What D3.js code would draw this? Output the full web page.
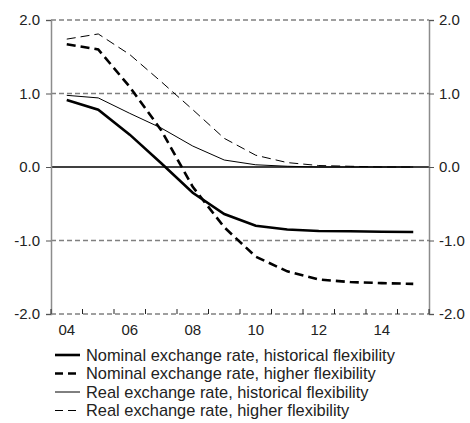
<!DOCTYPE html>
<html>
<head>
<meta charset="utf-8">
<script src="https://cdn.jsdelivr.net/npm/d3@7"></script>
<style>
  body { margin: 0; background: #fff; }
  svg { display: block; font-family: "Liberation Sans", Arial, sans-serif; }
</style>
</head>
<body>
<svg id="chart" width="470" height="423"></svg>
<script>
var years = [2004, 2005, 2006, 2007, 2008, 2009, 2010, 2011, 2012, 2013, 2014, 2015];
var yearLabels = ["04", "", "06", "", "08", "", "10", "", "12", "", "14", ""];
var yTicks = [-2, -1, 0, 1, 2];

var nominalHist   = [0.91, 0.78, 0.44, 0.05, -0.35, -0.64, -0.80, -0.85, -0.87, -0.875, -0.88, -0.885];
var nominalHigher = [1.67, 1.60, 1.09, 0.50, -0.27, -0.82, -1.22, -1.42, -1.53, -1.565, -1.58, -1.59];
var realHist      = [0.975, 0.94, 0.73, 0.53, 0.285, 0.095, 0.03, 0.01, 0.0, 0.0, 0.0, 0.0];
var realHigher    = [1.74, 1.81, 1.53, 1.16, 0.78, 0.39, 0.16, 0.06, 0.02, 0.01, 0.0, 0.0];

var seriesNames = [
    "Nominal exchange rate, historical flexibility",
    "Nominal exchange rate, higher flexibility",
    "Real exchange rate, historical flexibility",
    "Real exchange rate, higher flexibility"
];
var seriesValues = [nominalHist, nominalHigher, realHist, realHigher];
var seriesWidth = [2.6, 2.6, 1, 1];
var seriesDash = [null, "9,5", null, "9,5"];

var svg = d3.select("#chart");

var x = d3.scaleBand().domain(years).range([51, 429]).padding(0);
var y = d3.scaleLinear().domain([-2, 2]).range([314, 20]);

// gridlines
svg.append("g")
    .selectAll("line")
    .data(yTicks.filter(d => d !== 0))
    .enter().append("line")
    .attr("x1", 51).attr("x2", 429)
    .attr("y1", d => y(d)).attr("y2", d => y(d))
    .attr("stroke", "#808080")
    .attr("stroke-width", 1.5)
    .attr("stroke-dasharray", "5,3");

// zero line
svg.append("line")
    .attr("x1", 51).attr("x2", 429)
    .attr("y1", y(0)).attr("y2", y(0))
    .attr("stroke", "#000")
    .attr("stroke-width", 1.3);

// y axes (plain hyphen for negatives, as in the original)
var fmt = d => d.toFixed(1);
var leftAxis = svg.append("g")
    .attr("transform", "translate(51,0)")
    .call(d3.axisLeft(y).tickValues(yTicks).tickSize(5).tickPadding(6).tickFormat(fmt));
var rightAxis = svg.append("g")
    .attr("transform", "translate(429,0)")
    .call(d3.axisRight(y).tickValues(yTicks).tickSize(5).tickPadding(5).tickFormat(fmt));

[leftAxis, rightAxis].forEach(function(ax) {
    ax.select(".domain").attr("stroke", "#8c8c8c").attr("stroke-width", 1.5);
    ax.selectAll(".tick line").attr("stroke", "#555");
    ax.selectAll("text").attr("fill", "#222").style("font-size", "15px");
});

// x axis: ticks at band boundaries pointing up, labels centred in bands
var xBound = years.map(d => x(d)).concat([x.range()[1]]);
svg.append("g")
    .selectAll("line")
    .data(xBound)
    .enter().append("line")
    .attr("x1", d => d).attr("x2", d => d)
    .attr("y1", y(-2)).attr("y2", y(-2) - 5)
    .attr("stroke", "#222")
    .attr("stroke-width", 1);

var xAxis = svg.append("g")
    .attr("transform", "translate(0," + y(-2) + ")")
    .call(d3.axisBottom(x).tickSize(0).tickPadding(10).tickFormat((d, i) => yearLabels[i]));
xAxis.select(".domain").remove();
xAxis.selectAll("text").attr("fill", "#222").style("font-size", "15px");

// series
var line = d3.line()
    .x((d, i) => x(years[i]) + x.bandwidth() / 2)
    .y(d => y(d));

svg.append("g")
    .selectAll("path")
    .data(seriesValues)
    .enter().append("path")
    .attr("d", d => line(d))
    .attr("fill", "none")
    .attr("stroke", "#000")
    .attr("stroke-width", (d, i) => seriesWidth[i])
    .attr("stroke-dasharray", (d, i) => seriesDash[i]);

// legend
var legend = svg.append("g")
    .selectAll("g")
    .data(seriesNames)
    .enter().append("g")
    .attr("transform", (d, i) => "translate(55," + (355 + i * 18.5) + ")");

legend.append("line")
    .attr("x1", 0).attr("x2", 25)
    .attr("stroke", "#000")
    .attr("stroke-width", (d, i) => seriesWidth[i])
    .attr("stroke-dasharray", (d, i) => seriesDash[i] ? "8,5" : null);

legend.append("text")
    .attr("x", 31)
    .attr("dy", "0.35em")
    .attr("fill", "#222")
    .style("font-size", "16.4px")
    .text(d => d);
</script>
</body>
</html>
